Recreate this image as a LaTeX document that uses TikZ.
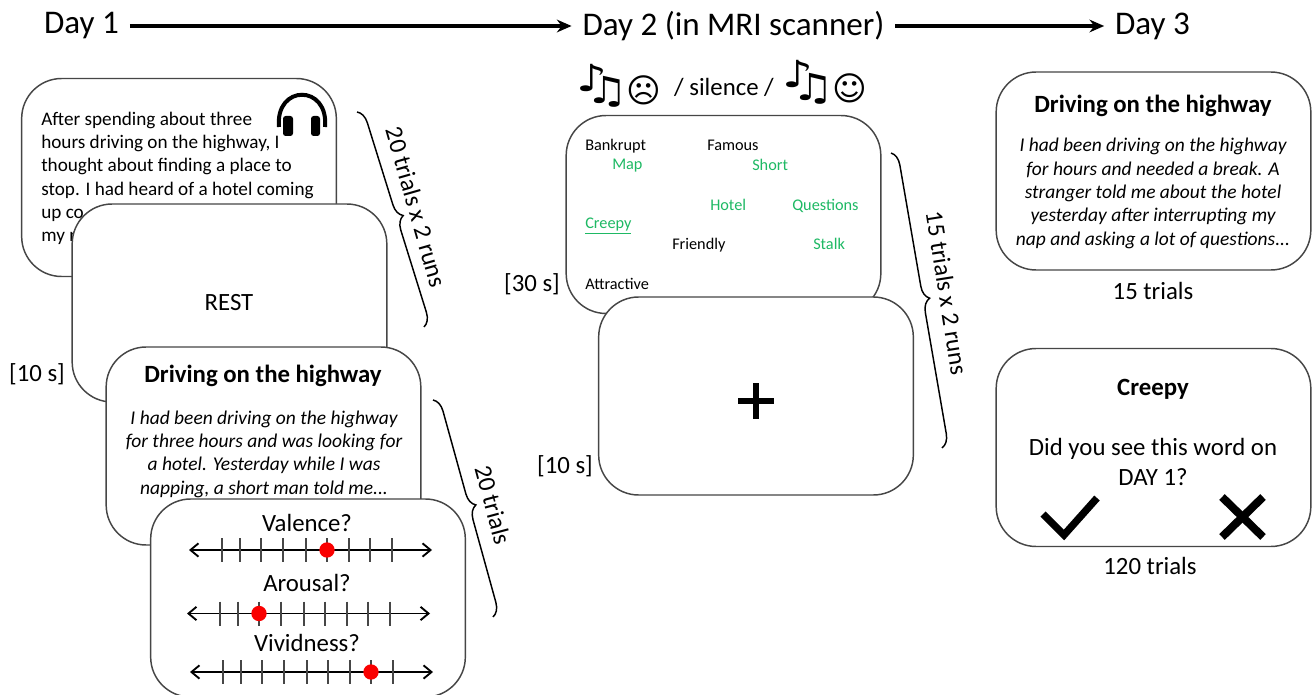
\documentclass[tikz,border=0pt]{standalone}
\usepackage{xcolor}
\usepackage{fontspec}
\setmainfont{Carlito}
\newfontfamily\symbolfont{DejaVu Sans}
\usetikzlibrary{arrows.meta,decorations.pathreplacing}
\definecolor{cardline}{RGB}{70, 70, 70}
\definecolor{wordgreen}{RGB}{30, 185, 100}
\definecolor{dotred}{RGB}{250, 0, 0}
\tikzset{
  card/.style={draw=cardline, fill=white, line width=1.1pt, rounded corners=30pt,
    minimum width=236pt, minimum height=148.5pt, inner sep=0pt},
  headtext/.style={font=\fontsize{24.8}{28}\selectfont, inner sep=8pt},
  arrowline/.style={line width=2.3pt, -{Stealth[length=11pt,width=9.5pt]}},
  bodytext/.style={font=\fontsize{14.4}{17.4}\selectfont, inner sep=0pt},
  storytext/.style={font=\fontsize{14.6}{17.5}\selectfont\itshape, align=center, inner sep=0pt},
  titletext/.style={font=\fontsize{18.6}{20}\selectfont\bfseries, inner sep=0pt},
  cuetext/.style={font=\fontsize{18.6}{22.5}\selectfont, align=center, inner sep=0pt},
  blackword/.style={font=\fontsize{12.2}{14}\selectfont, anchor=west, inner sep=0pt},
  greenword/.style={blackword, text=wordgreen},
  bracket/.style={decorate, decoration={brace,amplitude=10pt}, line width=1.1pt},
  scaleline/.style={line width=1.4pt, {Straight Barb[length=6pt,width=10pt]}-{Straight Barb[length=6pt,width=10pt]}},
  reddot/.style={circle, fill=dotred, inner sep=0pt, minimum size=11.5pt},
  notes/.style={font=\symbolfont\fontsize{28}{28}\selectfont, xscale=1.3, inner sep=0pt},
  face/.style={font=\symbolfont\fontsize{25}{25}\selectfont, inner sep=0pt}
}
\begin{document}
\begin{tikzpicture}[x=0.75pt, y=-0.75pt]
  \useasboundingbox (0,0) rectangle (1313,695);

  % top line
  \node[headtext] (dayone) at (81.5,26) {Day 1};
  \node[headtext] (daytwo) at (733.5,26) {Day 2 (in MRI scanner)};
  \node[headtext] (daythree) at (1152.5,26) {Day 3};
  \draw[arrowline] (dayone) -- (daytwo);
  \draw[arrowline] (daytwo) -- (daythree);

  % day 1
  \node[card] (listencard) at (179,177.5) {};
  \node[bodytext, anchor=north west, align=left] (listentext) at (41,112) {
    After spending about three\\
    hours driving on the highway, I\\
    thought about finding a place to\\
    stop. I had heard of a hotel coming\\
    up co\\
    my r
  };
  \draw[line width=3pt] (279,127) .. controls (275,84) and (329,84) .. (325,127);
  \fill[rounded corners=2pt] (283,116) rectangle (293,136);
  \fill[rounded corners=2pt] (311,116) rectangle (320,136);

  \node[card] (restcard) at (229.5,303) {};
  \node[cuetext] (resttext) at (229,303) {REST};
  \node[card] (storycard) at (263.5,446) {};
  \node[titletext] (storytitle) at (263,376) {Driving on the highway};
  \node[storytext] (storybody) at (264,454) {
    I had been driving on the highway\\
    for three hours and was looking for\\
    a hotel. Yesterday while I was\\
    napping, a short man told me...
  };
  \node[card] (ratingcard) at (308,598) {};
  \node[cuetext] (valencetext) at (307,523) {Valence?};
  \node[cuetext] (arousaltext) at (307,583) {Arousal?};
  \node[cuetext] (vividtext) at (307,643) {Vividness?};
  \foreach \sx/\sy/\dx in {222/550/105, 220/613.5/39, 223/672/148} {
    \coordinate (scaleleft) at (\sx-33,\sy);
    \coordinate (scaleright) at (\sx+210,\sy);
    \draw[scaleline] (scaleleft) -- (scaleright);
    \foreach \t in {0,18,39,61,84,105,127,148,170}
      \draw[line width=0.8pt, cardline] (\sx+\t,\sy-12) -- (\sx+\t,\sy+12);
    \node[reddot] at (\sx+\dx,\sy) {};
  }

  \node[cuetext] (restlabel) at (37,374) {[10 s]};
  \coordinate (brlistena) at (357,112);
  \coordinate (brlistenb) at (424,327);
  \draw[bracket] (brlistena) -- (brlistenb);
  \node[cuetext, rotate=-74] (listencount) at (416,207) {20 trials x 2 runs};
  \coordinate (brstorya) at (433,400);
  \coordinate (brstoryb) at (493,617);
  \draw[bracket] (brstorya) -- (brstoryb);
  \node[cuetext, rotate=-75] (storycount) at (493,505) {20 trials};

  % day 2
  \node[notes] (sadeighth) at (592,78) {♪};
  \node[notes] (sadbeam) at (607,92) {♫};
  \node[face] (sadface) at (644,90) {☹};
  \node[cuetext] (silencetext) at (724,87) {/ silence /};
  \node[notes] (happyeighth) at (798,74) {♪};
  \node[notes] (happybeam) at (813,89) {♫};
  \node[face] (happyface) at (850,88) {☺};

  \node[card] (wordcard) at (723.5,214.5) {};
  \node[blackword] (bankrupt) at (585,146) {Bankrupt};
  \node[blackword] (famous) at (707,145.5) {Famous};
  \node[greenword] (map) at (612,166) {Map};
  \node[greenword] (short) at (752,165) {Short};
  \node[greenword] (hotel) at (710,205) {Hotel};
  \node[greenword] (questions) at (792,205.5) {Questions};
  \node[greenword] (creepy) at (585,226) {\underline{Creepy}};
  \node[blackword] (friendly) at (672,245) {Friendly};
  \node[greenword] (stalk) at (813,244) {Stalk};
  \node[blackword] (attractive) at (585,284) {Attractive};
  \node[cuetext] (wordlabel) at (532,284) {[30 s]};

  \node[card] (fixcard) at (756,396) {};
  \draw[line width=4.5pt] (738,401) -- (774,401);
  \draw[line width=4.5pt] (756,383) -- (756,419);
  \node[cuetext] (fixlabel) at (565,466) {[10 s]};
  \coordinate (brworda) at (891,153);
  \coordinate (brwordb) at (942,448);
  \draw[bracket] (brworda) -- (brwordb);
  \node[cuetext, rotate=-81] (wordcount) at (947,293) {15 trials x 2 runs};

  % day 3
  \node[card] (recallcard) at (1153.5,171) {};
  \node[titletext] (recalltitle) at (1153,105.5) {Driving on the highway};
  \node[storytext] (recallbody) at (1153,193.5) {
    I had been driving on the highway\\
    for hours and needed a break. A\\
    stranger told me about the hotel\\
    yesterday after interrupting my\\
    nap and asking a lot of questions...
  };
  \node[cuetext] (recallcount) at (1153,291) {15 trials};

  \node[card] (testcard) at (1153.5,447.5) {};
  \node[titletext] (testtitle) at (1153,389) {Creepy};
  \node[cuetext] (testtext) at (1153,462) {
    Did you see this word on\\
    DAY 1?
  };
  \draw[line width=5.5pt] (1043,514) -- (1064,535) -- (1097,498);
  \draw[line width=6pt] (1222,497) -- (1263,537);
  \draw[line width=6pt] (1263,497) -- (1222,537);
  \node[cuetext] (testcount) at (1150,566) {120 trials};
\end{tikzpicture}
\end{document}
